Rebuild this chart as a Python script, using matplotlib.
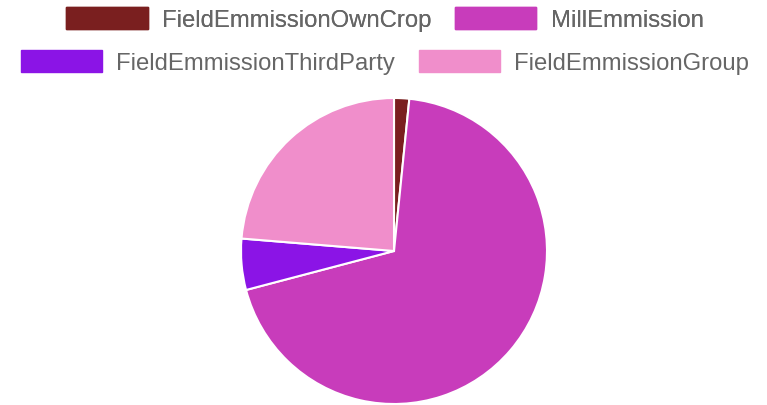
import matplotlib.pyplot as plt
from matplotlib.patches import Patch

labels = ["FieldEmmissionOwnCrop", "MillEmmission", "FieldEmmissionThirdParty", "FieldEmmissionGroup"]
values = [1.6, 69.3, 5.4, 23.7]
colors = ["#7a1f1f", "#c83cbb", "#8b14e6", "#f08ecb"]

W, H = 767, 406
fig = plt.figure(figsize=(W / 100, H / 100), dpi=100)
plt.rcParams['font.family'] = ['Liberation Sans', 'DejaVu Sans']

# pie centre (394, 252) px, radius 153 px
cx, cy, r = 394, 252, 153
ax = fig.add_axes([(cx - r) / W, (H - cy - r) / H, 2 * r / W, 2 * r / H])
ax.pie(values, colors=colors, startangle=90, counterclock=False, radius=1,
       wedgeprops=dict(edgecolor="white", linewidth=1.5))
ax.set_xlim(-1, 1)
ax.set_ylim(-1, 1)
ax.set_aspect("equal")
ax.axis("off")

handles = [Patch(facecolor=c, edgecolor=c) for c in colors]
common = dict(ncol=2, frameon=False, fontsize=17.2, labelcolor="#666666",
              handlelength=3.4, handleheight=1.05, handletextpad=0.6,
              columnspacing=1.0, borderpad=0, borderaxespad=0)

leg1 = fig.legend(handles[:2], labels[:2], loc="center", bbox_to_anchor=(385 / W, 1 - 20 / H), **common)
fig.add_artist(leg1)
leg2 = fig.legend(handles[2:], labels[2:], loc="center", bbox_to_anchor=(385 / W, 1 - 63 / H), **common)

fig.savefig("out.png", dpi=100)
